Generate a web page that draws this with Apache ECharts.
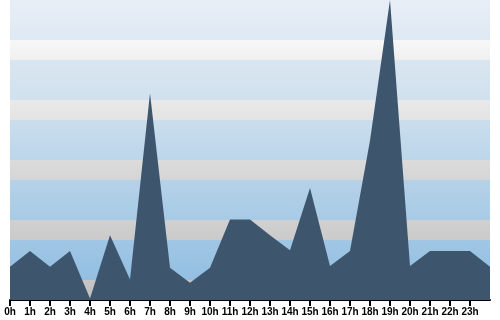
<!DOCTYPE html>
<html>
<head>
<meta charset="utf-8">
<script src="https://cdn.jsdelivr.net/npm/echarts@6/dist/echarts.min.js"></script>
<style>
html,body{margin:0;padding:0;background:#fff;}
#chart{width:500px;height:320px;}
</style>
</head>
<body>
<div id="chart"></div>
<script>
const hours = ['0h','1h','2h','3h','4h','5h','6h','7h','8h','9h','10h','11h','12h','13h','14h','15h','16h','17h','18h','19h','20h','21h','22h','23h',''];
const counts = [2.1,3.1,2.1,3.1,0.1,4.1,1.3,13.1,2.05,1.1,2.05,5.1,5.1,4.1,3.15,7.1,2.15,3.1,10.1,19,2.15,3.1,3.1,3.1,2.1];
const yMax = 19;

const chart = echarts.init(document.getElementById('chart'), null, {renderer:'canvas'});
function vg(a,b){return new echarts.graphic.LinearGradient(0,0,0,1,[{offset:0,color:a},{offset:1,color:b}]);}
// band colours from bottom to top: gray, blue, blue, gray, ...
const bandColors = [
  vg('#c6c6c6','#c0c0c0'),'rgba(0,0,0,0)','rgba(0,0,0,0)',
  vg('#d0d0d0','#cbcbcb'),'rgba(0,0,0,0)','rgba(0,0,0,0)',
  vg('#dbdbdb','#d5d5d5'),'rgba(0,0,0,0)','rgba(0,0,0,0)',
  vg('#e9e9e9','#e3e3e3'),'rgba(0,0,0,0)','rgba(0,0,0,0)',
  vg('#f7f7f7','#f0f0f0'),'rgba(0,0,0,0)','rgba(0,0,0,0)'
];
chart.setOption({
  animation:false,
  grid:{left:10,right:10,top:0,bottom:20,show:true,borderWidth:0,
    backgroundColor:new echarts.graphic.LinearGradient(0,0,0,1,[
      {offset:0,color:'#e8eef6'},{offset:0.35,color:'#cfe0ee'},{offset:0.65,color:'#b0cfe7'},{offset:1,color:'#8cbbe0'}])},
  xAxis:{type:'category',data:hours,boundaryGap:false,
    axisLine:{show:true,lineStyle:{color:'#000',width:2}},
    axisTick:{show:true,length:6,lineStyle:{color:'#000',width:2},interval:function(i,v){return v!=='';}},
    axisLabel:{interval:0,margin:7,color:'#000',fontSize:10,fontWeight:'bold',fontFamily:'"Liberation Sans Narrow","Liberation Sans",Arial,sans-serif'},
    splitLine:{show:false}},
  yAxis:[
    {type:'value',min:0,max:yMax,show:false,splitLine:{show:false}},
    {type:'value',min:0,max:15,interval:1,axisLabel:{show:false},axisLine:{show:false},axisTick:{show:false},splitLine:{show:false},
      splitArea:{show:true,areaStyle:{color:bandColors}}}
  ],
  series:[{type:'line',data:counts,yAxisIndex:0,showSymbol:false,symbol:'none',
    lineStyle:{width:0,color:'#3e556e'},areaStyle:{color:'#3e556e',opacity:1},z:3}]
});
</script>
</body>
</html>
